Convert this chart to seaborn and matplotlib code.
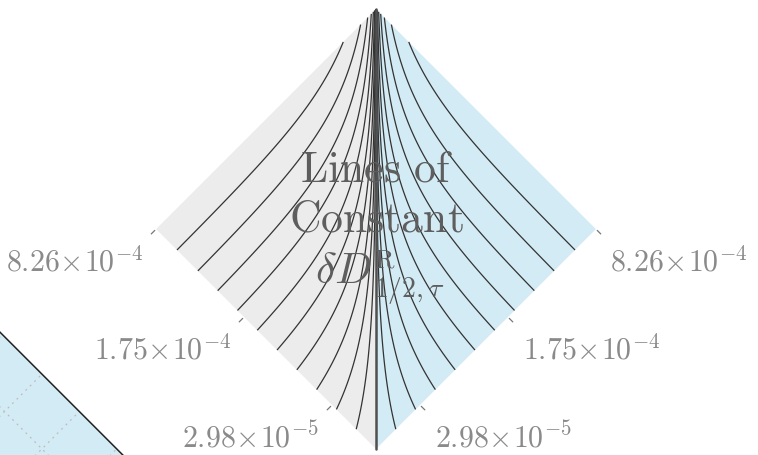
import numpy as np
import matplotlib.pyplot as plt
import seaborn as sns
from matplotlib.transforms import Affine2D
from matplotlib.patches import Polygon

sns.set_theme(style='white')
plt.rcParams['mathtext.fontset'] = 'cm'
plt.rcParams['font.family'] = ['DejaVu Sans']

# axis ticks (position along each lower edge, value shown)
tick_pos = [0.2, 0.6, 1.0]
tick_labels = [r'$2.98\!\times\!10^{-5}$', r'$1.75\!\times\!10^{-4}$', r'$8.26\!\times\!10^{-4}$']

# where each constant-delta line meets the lower edges (fraction of edge)
left_cross = [0.09, 0.18, 0.27, 0.36, 0.45, 0.54, 0.63, 0.72, 0.81, 0.905]
right_cross = [0.09, 0.18, 0.27, 0.36, 0.45, 0.54, 0.63, 0.72, 0.81, 0.905]

# decades spanned by D along one edge of the diamond
field_decades = 2.5

# second (cut off) panel grid in the lower left corner
corner_p_grid = [0.06, 0.23, 0.40, 0.58]
corner_q_grid = [0.66, 0.83]

gray_fill = '#ececec'
blue_fill = '#d3ebf4'
line_col = '#333333'

fig = plt.figure(figsize=(7.58, 4.56), dpi=100)
ax = fig.add_axes([0, 0, 1, 1])
ax.set_xlim(0, 758)
ax.set_ylim(0, 456)
ax.axis('off')

S = 311
tr = Affine2D().scale(S).rotate_deg(45).translate(376, 6) + ax.transData

def D(x):
    return 10 ** (field_decades * np.asarray(x, dtype=float))

ax.add_patch(Polygon([[0, 0], [0, 1], [1, 1]], closed=True, fc=gray_fill, ec='none', transform=tr, zorder=1))
ax.add_patch(Polygon([[0, 0], [1, 0], [1, 1]], closed=True, fc=blue_fill, ec='none', transform=tr, zorder=1))

q = np.linspace(0, 1, 800)
Q, P = np.meshgrid(q, q)
Z = D(P) - D(Q)
lev_left = np.sort(D(left_cross) - D(0))
lev_right = np.sort(-(D(right_cross) - D(0)))
ax.contour(Q, P, Z, levels=lev_left, colors=line_col, linewidths=0.9,
           linestyles='solid', transform=tr, zorder=2)
ax.contour(Q, P, Z, levels=lev_right, colors=line_col, linewidths=0.9,
           linestyles='solid', transform=tr, zorder=2)

sns.lineplot(x=[0, 1], y=[0, 1], ax=ax, color='#505050', lw=1.8, transform=tr, zorder=3)

# ticks and labels
for pos, lab in zip(tick_pos, tick_labels):
    ax.plot([-0.006, -0.022], [pos, pos], color='#777777', lw=0.9, transform=tr, zorder=3)
    ax.plot([pos, pos], [-0.006, -0.022], color='#777777', lw=0.9, transform=tr, zorder=3)
    ax.annotate(lab, xy=(-0.022, pos), xycoords=tr, xytext=(-6, -8), textcoords='offset points',
                ha='right', va='top', fontsize=21.5, color='#8a8a8a')
    ax.annotate(lab, xy=(pos, -0.022), xycoords=tr, xytext=(7, -8), textcoords='offset points',
                ha='left', va='top', fontsize=21.5, color='#8a8a8a')

# title block
txt_col = '#5e5e5e'
txt_kw = dict(ha='center', va='baseline', fontsize=31.5, color=txt_col, zorder=4)
ax.text(376, 456 - 182, r'$\mathrm{Lines\ of}$', **txt_kw)
ax.text(376, 456 - 232, r'$\mathrm{Constant}$', **txt_kw)
ax.text(372, 456 - 283, r'$\delta D$', ha='right', va='baseline', fontsize=31.5, color=txt_col, zorder=4)
ax.text(374, 456 - 268, r'$\mathrm{R}$', ha='left', va='baseline', fontsize=19, color=txt_col, zorder=4)
ax.text(374, 456 - 297, r'$1/2,\tau$', ha='left', va='baseline', fontsize=20, color=txt_col, zorder=4)

# lower-left corner: part of a neighbouring panel
tr2 = Affine2D().scale(S).rotate_deg(45).translate(-90, -227) + ax.transData
ax.add_patch(Polygon([[0, 0], [1, 0], [1, 1], [0, 1]], closed=True, fc=blue_fill, ec='none', transform=tr2, zorder=1))
for pp in corner_p_grid:
    ax.plot([0, 1], [pp, pp], color='#bdbdbd', lw=0.9, ls=(0, (1.5, 3.5)), transform=tr2, zorder=2)
for qq in corner_q_grid:
    ax.plot([qq, qq], [0, 1], color='#bdbdbd', lw=0.9, ls=(0, (1.5, 3.5)), transform=tr2, zorder=2)
ax.plot([1, 1], [0, 1], color='#222222', lw=1.1, transform=tr2, zorder=3)

fig.savefig('out.png', dpi=100)
